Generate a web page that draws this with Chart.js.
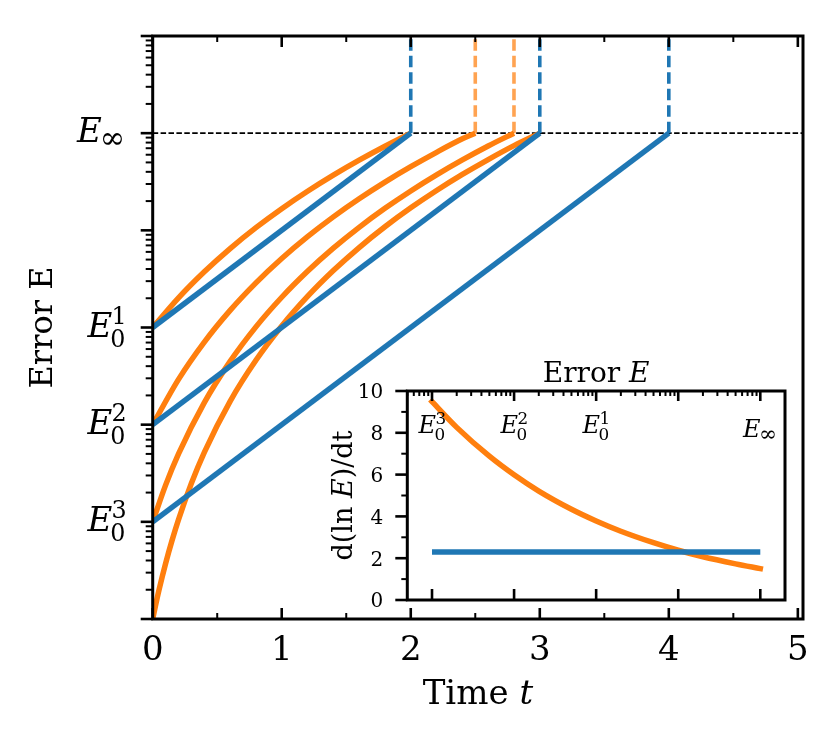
<!DOCTYPE html>
<html><head><meta charset="utf-8">
<script src="https://cdn.jsdelivr.net/npm/chart.js@4.4.1/dist/chart.umd.min.js"></script>
<style>
html,body{margin:0;padding:0;background:#fff;}
#wrap{position:relative;width:832px;height:738px;background:#fff;}
canvas{position:absolute;left:0;top:0;}
</style></head><body>
<div id="wrap"><canvas id="main" width="832" height="738"></canvas><canvas id="inset" width="832" height="738"></canvas></div>
<script>
// ---------------- data ----------------
const E_INF = 10;
const E_TOP = 100;
const E_BOTTOM = 1e-4;
const T_MAX = 5.04;
const E0_VALUES = [1e-1, 1e-2, 1e-3];
const BLUE_END_T = [2, 3, 4];
const BLUE_DASH_T = [2, 3, 4];
const ORANGE_DASH_T = [2.5, 2.8];

const orangeA_t = [0,0.2,0.4,0.6,0.8,1.0,1.2,1.4,1.6,1.8,2.0];
const orangeA_E = [0.1,0.2022,0.3748,0.6491,1.065,1.670,2.524,3.696,5.268,7.334,10];
const orangeB_t = [0,0.2,0.4,0.6,0.8,1.0,1.2,1.4,1.6,1.8,2.0,2.2,2.4,2.5];
const orangeB_E = [0.01,0.02927,0.07083,0.1501,0.2882,0.5132,0.8610,1.376,2.112,3.134,4.519,6.355,8.744,10];
const orangeC_t = [0,0.1,0.2,0.4,0.6,0.8,1.0,1.2,1.4,1.6,1.8,2.0,2.2,2.4,2.6,2.8];
const orangeC_E = [0.001,0.002386,0.005002,0.01687,0.04482,0.1015,0.2048,0.3790,0.6555,1.074,1.684,2.543,3.722,5.302,7.379,10];
const orangeD_t = [0,0.025,0.05,0.1,0.15,0.2,0.3,0.4,0.6,0.8,1.0,1.2,1.4,1.6,1.8,2.0,2.2,2.4,2.6,2.8,3.0];
const orangeD_E = [0.0001,0.0001438,0.0002016,0.0003727,0.0006442,0.001055,0.002495,0.005199,0.01739,0.04596,0.1036,0.2086,0.3852,0.6652,1.088,1.704,2.571,3.760,5.353,7.445,10];

const X_TICKS = [0,1,2,3,4,5];
const X_MINOR = [0.5,1.5,2.5,3.5,4.5];
const X_TICK_LABELS = ['0','1','2','3','4','5'];
const Y_LABEL_VALUES = [10, 0.1, 0.01, 0.001];
const Y_LABEL_SUB = ['\u221E', '0', '0', '0'];
const Y_LABEL_SUP = ['', '1', '2', '3'];

const insetE = [0.001,0.002,0.005,0.01,0.02,0.05,0.1,0.2,0.5,1,2,5,10];
const insetOrange = [9.49,8.26,6.88,5.99,5.21,4.34,3.78,3.29,2.74,2.38,2.07,1.73,1.50];
const insetBlueE = [0.001, 10];
const insetBlue = [2.30, 2.30];
const INSET_Y_TICKS = [0,2,4,6,8,10];
const INSET_X_LABEL_VALUES = [0.001, 0.01, 0.1, 10];
const INSET_X_LABEL_SUB = ['0','0','0','\u221E'];
const INSET_X_LABEL_SUP = ['3','2','1',''];

// ---------------- style ----------------
const BLUE = '#1f77b4';
const ORANGE = '#ff7f0e';
const ORANGE_DASH = 'rgba(255,127,14,0.72)';
const SERIF = '"DejaVu Serif", "Liberation Serif", serif';
const LW = 5.5;

function pts(xs, ys){ return xs.map((x,i)=>({x:x, y:ys[i]})); }
function font(size, italic){ return (italic ? 'italic ' : '') + size + 'px ' + SERIF; }

function drawE(ctx, x, baseline, size, sub, sup, align){
  const isInf = sub === '\u221E';
  const subSize = isInf ? size*0.9 : size*0.7;
  ctx.font = font(size, true);
  const wE = ctx.measureText('E').width;
  ctx.font = font(subSize, false);
  const wSub = sub ? ctx.measureText(sub).width : 0;
  const wSup = sup ? ctx.measureText(sup).width : 0;
  const total = wE + Math.max(wSub, wSup) - size*0.04;
  const x0 = align === 'right' ? x - total : x - total/2;
  ctx.textAlign = 'left'; ctx.textBaseline = 'alphabetic';
  ctx.fillStyle = '#000';
  ctx.font = font(size, true);
  ctx.fillText('E', x0, baseline);
  ctx.font = font(subSize, false);
  if (sub) ctx.fillText(sub, x0 + wE - size*0.06, baseline + (isInf ? size*0.16 : size*0.31));
  if (sup) ctx.fillText(sup, x0 + wE - size*0.02, baseline - size*0.37);
}

function drawMixed(ctx, parts, x, y, size){ // parts: [[text, italic]], centered at x
  let w = 0;
  parts.forEach(p=>{ ctx.font = font(size, p[1]); w += ctx.measureText(p[0]).width; });
  let cx = x - w/2;
  ctx.textAlign = 'left';
  ctx.fillStyle = '#000';
  parts.forEach(p=>{ ctx.font = font(size, p[1]); ctx.fillText(p[0], cx, y); cx += ctx.measureText(p[0]).width; });
}

// ---------------- main chart ----------------
const mainDatasets = [];
mainDatasets.push({data: pts([0, T_MAX], [E_INF, E_INF]), borderColor:'#000', borderWidth:1.8, borderDash:[5.5,2.4], order:9});
[[orangeA_t,orangeA_E],[orangeB_t,orangeB_E],[orangeC_t,orangeC_E],[orangeD_t,orangeD_E]].forEach(c=>{
  mainDatasets.push({data: pts(c[0], c[1]), borderColor: ORANGE, borderWidth: LW, cubicInterpolationMode:'monotone', borderJoinStyle:'round', order:8});
});
ORANGE_DASH_T.forEach(t=>{
  mainDatasets.push({data: pts([t,t],[E_INF,E_TOP]), borderColor: ORANGE_DASH, borderWidth:3.6, borderDash:[11.5,5], order:7});
});
E0_VALUES.forEach((e0,i)=>{
  mainDatasets.push({data: pts([0, BLUE_END_T[i]], [e0, E_INF]), borderColor: BLUE, borderWidth: LW, borderJoinStyle:'round', order:6});
});
BLUE_DASH_T.forEach(t=>{
  mainDatasets.push({data: pts([t,t],[E_INF,E_TOP]), borderColor: BLUE, borderWidth:3.6, borderDash:[11.5,5], order:5});
});

const mainAxes = {
  id:'mainAxes',
  afterDraw(chart){
    const {ctx, chartArea:a, scales:{x, y}} = chart;
    ctx.save();
    ctx.strokeStyle = '#000';
    // y ticks (outward, left)
    for (let d=-4; d<=2; d++){
      const py = y.getPixelForValue(Math.pow(10,d));
      ctx.lineWidth = 2.6;
      ctx.beginPath(); ctx.moveTo(a.left-12, py); ctx.lineTo(a.left, py); ctx.stroke();
      if (d < 2){
        for (let m=2; m<=9; m++){
          const pm = y.getPixelForValue(m*Math.pow(10,d));
          ctx.lineWidth = 2;
          ctx.beginPath(); ctx.moveTo(a.left-7, pm); ctx.lineTo(a.left, pm); ctx.stroke();
        }
      }
    }
    // x ticks (inward, top & bottom)
    X_TICKS.forEach(t=>{
      const px = x.getPixelForValue(t);
      ctx.lineWidth = 2.6;
      ctx.beginPath(); ctx.moveTo(px, a.bottom); ctx.lineTo(px, a.bottom-11); ctx.stroke();
      ctx.beginPath(); ctx.moveTo(px, a.top); ctx.lineTo(px, a.top+11); ctx.stroke();
    });
    X_MINOR.forEach(t=>{
      const px = x.getPixelForValue(t);
      ctx.lineWidth = 2;
      ctx.beginPath(); ctx.moveTo(px, a.bottom); ctx.lineTo(px, a.bottom-6); ctx.stroke();
      ctx.beginPath(); ctx.moveTo(px, a.top); ctx.lineTo(px, a.top+6); ctx.stroke();
    });
    // spines
    ctx.lineWidth = 3;
    ctx.strokeRect(a.left, a.top, a.right-a.left, a.bottom-a.top);
    // x tick labels
    ctx.fillStyle = '#000';
    ctx.font = font(34, false);
    ctx.textAlign = 'center'; ctx.textBaseline = 'alphabetic';
    X_TICKS.forEach((t,i)=>{ ctx.fillText(X_TICK_LABELS[i], x.getPixelForValue(t), a.bottom+41); });
    // y tick labels
    Y_LABEL_VALUES.forEach((v,i)=>{
      drawE(ctx, 126, y.getPixelForValue(v)+9, 34, Y_LABEL_SUB[i], Y_LABEL_SUP[i], 'right');
    });
    // axis titles
    ctx.textBaseline = 'alphabetic';
    drawMixed(ctx, [['Time ', false], ['t', true]], (a.left+a.right)/2, 704, 34);
    ctx.save();
    ctx.translate(51.5, (a.top+a.bottom)/2);
    ctx.rotate(-Math.PI/2);
    drawMixed(ctx, [['Error E', false]], 0, 0, 32);
    ctx.restore();
    ctx.restore();
  }
};

new Chart(document.getElementById('main'), {
  type:'line',
  data:{datasets: mainDatasets},
  options:{
    responsive:false, animation:false,
    layout:{padding:{left:152.7, right:29, top:36, bottom:119}},
    scales:{
      x:{type:'linear', min:0, max:T_MAX, display:false},
      y:{type:'logarithmic', min:E_BOTTOM, max:E_TOP, display:false}
    },
    elements:{point:{radius:0}, line:{fill:false}},
    plugins:{legend:{display:false}, tooltip:{enabled:false}}
  },
  plugins:[mainAxes]
});

// ---------------- inset chart ----------------
const insetAxes = {
  id:'insetAxes',
  beforeDatasetsDraw(chart){
    const {ctx, chartArea:a} = chart;
    ctx.save(); ctx.fillStyle = '#fff';
    ctx.fillRect(a.left, a.top, a.right-a.left, a.bottom-a.top);
    ctx.restore();
  },
  afterDraw(chart){
    const {ctx, chartArea:a, scales:{x, y}} = chart;
    ctx.save();
    ctx.strokeStyle = '#000';
    // y ticks outward
    for (let v=0; v<=10; v++){
      const py = y.getPixelForValue(v);
      const major = v % 2 === 0;
      ctx.lineWidth = major ? 2.6 : 2;
      ctx.beginPath(); ctx.moveTo(a.left - (major?12:6), py); ctx.lineTo(a.left, py); ctx.stroke();
    }
    // top ticks inward (major + minor), bottom major
    for (let d=-4; d<=1; d++){
      for (let m=1; m<=9; m++){
        const v = m*Math.pow(10,d);
        if (v < 5e-4 || v > 20) continue;
        const px = x.getPixelForValue(v);
        const major = m === 1;
        ctx.lineWidth = major ? 2.6 : 2;
        ctx.beginPath(); ctx.moveTo(px, a.top); ctx.lineTo(px, a.top + (major?10:5)); ctx.stroke();
        if (major){
          ctx.beginPath(); ctx.moveTo(px, a.bottom); ctx.lineTo(px, a.bottom-11); ctx.stroke();
        }
      }
    }
    ctx.lineWidth = 3;
    ctx.strokeRect(a.left, a.top, a.right-a.left, a.bottom-a.top);
    // y tick labels
    ctx.fillStyle = '#000';
    ctx.font = font(20, false);
    ctx.textAlign = 'right'; ctx.textBaseline = 'alphabetic';
    INSET_Y_TICKS.forEach(v=>{ ctx.fillText(String(v), a.left-24, y.getPixelForValue(v)+7.3); });
    // top labels inside
    INSET_X_LABEL_VALUES.forEach((v,i)=>{
      const isInf = INSET_X_LABEL_SUB[i] === '\u221E';
      drawE(ctx, x.getPixelForValue(v), a.top + (isInf ? 46 : 42), 24, INSET_X_LABEL_SUB[i], INSET_X_LABEL_SUP[i], 'center');
    });
    // titles
    drawMixed(ctx, [['Error ', false], ['E', true]], (a.left+a.right)/2, a.top-9, 28);
    ctx.save();
    ctx.translate(a.left-55, (a.top+a.bottom)/2);
    ctx.rotate(-Math.PI/2);
    drawMixed(ctx, [['d(ln ', false], ['E', true], [')/dt', false]], 0, 0, 27);
    ctx.restore();
    ctx.restore();
  }
};

new Chart(document.getElementById('inset'), {
  type:'line',
  data:{datasets:[
    {data: pts(insetBlueE, insetBlue), borderColor: BLUE, borderWidth: LW, borderCapStyle:'butt', order:1},
    {data: pts(insetE, insetOrange), borderColor: ORANGE, borderWidth: LW, borderCapStyle:'square', cubicInterpolationMode:'monotone', order:2}
  ]},
  options:{
    responsive:false, animation:false,
    layout:{padding:{left:407.3, right:47, top:391, bottom:138}},
    scales:{
      x:{type:'logarithmic', min:5e-4, max:20, display:false},
      y:{type:'linear', min:0, max:10, display:false}
    },
    elements:{point:{radius:0}, line:{fill:false}},
    plugins:{legend:{display:false}, tooltip:{enabled:false}}
  },
  plugins:[insetAxes]
});
</script>
</body></html>
